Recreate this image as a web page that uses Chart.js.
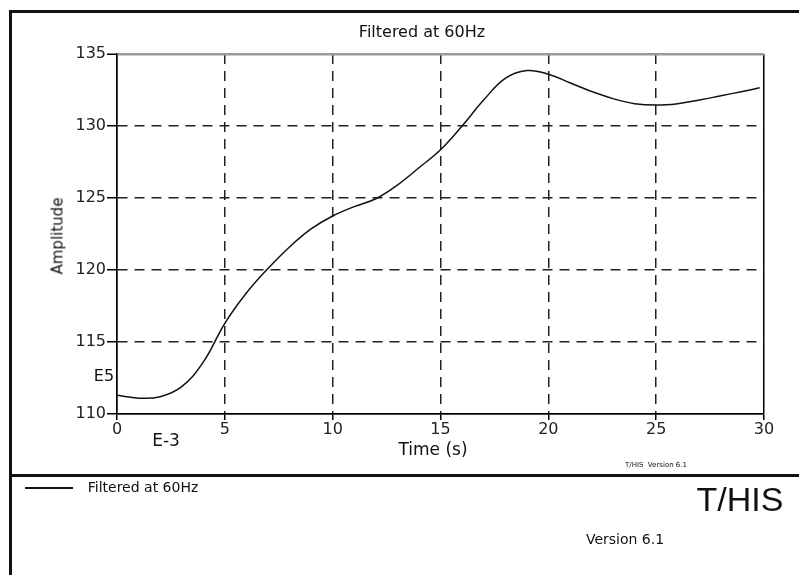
<!DOCTYPE html>
<html>
<head>
<meta charset="utf-8">
<script src="https://cdn.jsdelivr.net/npm/chart.js@4.4.1/dist/chart.umd.min.js"></script>
<style>
  html, body { margin: 0; padding: 0; background: #fff; }
  #wrap { position: relative; width: 799px; height: 575px; overflow: hidden; }
  #chart { position: absolute; left: 0; top: 0; }
  .rule { position: absolute; background: #111; }
  .lbl { position: absolute; transform: translate(-50%, -50%); line-height: 1; white-space: nowrap; color: #111; font-family: 'DejaVu Sans', sans-serif; }
</style>
</head>
<body>
<div id="wrap">
  <canvas id="chart" width="799" height="575"></canvas>
  <div class="rule" style="left:9px; top:10px; width:3px; height:570px;"></div>
  <div class="rule" style="left:9px; top:10px; width:800px; height:3px;"></div>
  <div class="rule" style="left:9px; top:474px; width:800px; height:3px;"></div>

  <div class="lbl" style="left:422px; top:32px; font-size:16px;">Filtered at 60Hz</div>
  <div class="lbl" style="left:58px; top:236px; font-size:15px; transform:translate(-50%,-50%) rotate(-90deg);">Amplitude</div>
  <div class="lbl" style="left:104px; top:376px; font-size:16px;">E5</div>
  <div class="lbl" style="left:166px; top:440px; font-size:17px;">E-3</div>
  <div class="lbl" style="left:433px; top:449px; font-size:17px;">Time (s)</div>
  <div class="lbl" style="left:656px; top:465px; font-size:7px;">T/HIS&nbsp; Version 6.1</div>

  <div class="rule" style="left:25px; top:487px; width:48px; height:1.5px;"></div>
  <div class="lbl" style="left:143px; top:487px; font-size:14px;">Filtered at 60Hz</div>
  <div class="lbl" style="left:740px; top:499px; font-size:34px; font-family:'Liberation Sans', Arial, sans-serif;">T/HIS</div>
  <div class="lbl" style="left:625px; top:539px; font-size:14px;">Version 6.1</div>
</div>
<script>
const times = [0, 1, 2, 3, 4, 5, 6, 7, 8, 9, 10, 11, 12, 13, 14, 15, 16, 17, 18, 19, 20, 21, 22, 23, 24, 25, 26, 27, 28, 29, 29.8];
const amplitude = [111.3, 111.1, 111.2, 111.9, 113.6, 116.3, 118.4, 120.1, 121.6, 122.85, 123.75, 124.4, 124.95, 125.9, 127.1, 128.35, 130.0, 131.8, 133.3, 133.85, 133.6, 133.0, 132.4, 131.9, 131.55, 131.45, 131.55, 131.8, 132.1, 132.4, 132.65];
const xTicks = [0, 5, 10, 15, 20, 25, 30];
const yTicks = [110, 115, 120, 125, 130, 135];

const tickFont = { family: 'DejaVu Sans', size: 16 };

const ctx = document.getElementById('chart').getContext('2d');
new Chart(ctx, {
    type: 'line',
    data: {
        datasets: [{
            label: 'Filtered at 60Hz',
            data: times.map((t, i) => ({ x: t, y: amplitude[i] })),
            borderColor: '#111',
            borderWidth: 1.5,
            pointRadius: 0,
            tension: 0.4,
            fill: false
        }]
    },
    options: {
        responsive: false,
        animation: false,
        layout: { padding: { top: 54, right: 35, left: 0, bottom: 0 } },
        plugins: { legend: { display: false }, title: { display: false }, tooltip: { enabled: false } },
        scales: {
            x: {
                type: 'linear', min: 0, max: 30,
                afterBuildTicks: s => { s.ticks = xTicks.map(v => ({ value: v })); },
                afterFit: s => { s.height = 161; },
                grid: {
                    color: c => (c.tick && c.tick.value === 30) ? '#000' : '#222',
                    lineWidth: 1.5,
                    tickLength: 6, tickColor: '#000', tickWidth: 1.5
                },
                border: {
                    display: true, color: '#000', width: 1.5,
                    dash: c => (c.tick && (c.tick.value === 30 || c.tick.value === 0)) ? [] : [10, 7]
                },
                ticks: { font: tickFont, color: '#222', padding: 0, maxRotation: 0 }
            },
            y: {
                min: 110, max: 135,
                afterBuildTicks: s => { s.ticks = yTicks.map(v => ({ value: v })); },
                afterFit: s => { s.width = 117; },
                grid: {
                    color: c => (c.tick && c.tick.value === 135) ? '#999' : '#222',
                    lineWidth: c => (c.tick && c.tick.value === 135) ? 2.5 : 1.5,
                    tickLength: 10, tickColor: '#000', tickWidth: 1.5
                },
                border: {
                    display: true, color: '#000', width: 1.5,
                    dash: c => (c.tick && (c.tick.value === 135 || c.tick.value === 110)) ? [] : [10, 7]
                },
                ticks: { font: tickFont, color: '#222', padding: 1 }
            }
        }
    }
});
</script>
</body>
</html>
